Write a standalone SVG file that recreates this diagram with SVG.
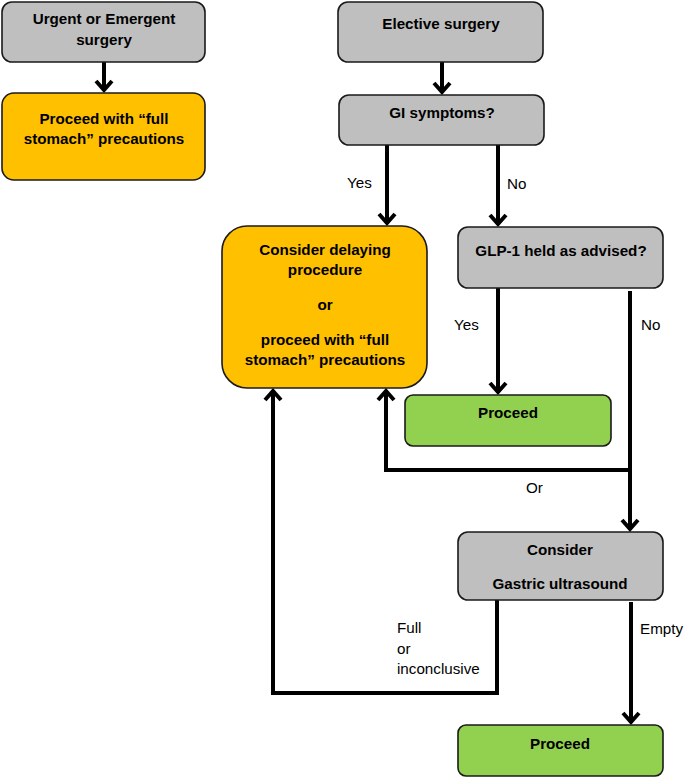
<svg xmlns="http://www.w3.org/2000/svg" width="685" height="777" viewBox="0 0 685 777">
<defs>
<style>
.box{stroke:#1a1a1a;stroke-width:1.6}
.gray{fill:#BFBFBF}
.orange{fill:#FFC000}
.green{fill:#92D050}
.t{font-family:"Liberation Sans",Arial,sans-serif;font-size:15.2px;font-weight:bold;fill:#000;text-anchor:middle}
.l{font-family:"Liberation Sans",Arial,sans-serif;font-size:15.2px;fill:#000}
.c{fill:none;stroke:#000;stroke-width:4;stroke-linejoin:miter}
.a{marker-end:url(#arr)}
</style>
<marker id="arr" markerUnits="userSpaceOnUse" markerWidth="24" markerHeight="24" refX="0" refY="0" orient="auto" viewBox="-14 -12 16 24" overflow="visible">
<path d="M-10,-8 L-1,0 L-10,8" fill="none" stroke="#000" stroke-width="4"/>
</marker>
</defs>
<g id="connectors">
<path class="c a" d="M104,62 V91"/>
<path class="c a" d="M442,62 V93"/>
<path class="c a" d="M387,145 V224"/>
<path class="c a" d="M498,145 V225"/>
<path class="c a" d="M498,288 V393"/>
<path class="c a" d="M630,291 V530"/>
<path class="c a" d="M630,470 H386 V390"/>
<path class="c a" d="M497,600 V693 H273 V390"/>
<path class="c a" d="M631,602 V723"/>
<text class="l" x="347" y="188">Yes</text>
<text class="l" x="507" y="189">No</text>
<text class="l" x="454" y="330">Yes</text>
<text class="l" x="641" y="330">No</text>
<text class="l" x="526" y="493">Or</text>
<text class="l" x="397" y="633">Full</text>
<text class="l" x="397" y="654">or</text>
<text class="l" x="397" y="674">inconclusive</text>
<text class="l" x="640" y="634">Empty</text>
</g>
<g id="urgent">
<rect class="box gray" x="2" y="2" width="203" height="60" rx="10"/>
<text class="t" x="104" y="24">Urgent or Emergent</text>
<text class="t" x="104" y="45">surgery</text>
</g>
<g id="full-stomach">
<rect class="box orange" x="2" y="93" width="203" height="87" rx="12"/>
<text class="t" x="104" y="124">Proceed with “full</text>
<text class="t" x="104" y="144">stomach” precautions</text>
</g>
<g id="elective">
<rect class="box gray" x="338" y="2" width="205" height="60" rx="10"/>
<text class="t" x="441" y="29">Elective surgery</text>
</g>
<g id="gi">
<rect class="box gray" x="339" y="95" width="205" height="50" rx="10"/>
<text class="t" x="442" y="118">GI symptoms?</text>
</g>
<g id="delay">
<rect class="box orange" x="222" y="226" width="205" height="162" rx="25"/>
<text class="t" x="325" y="255">Consider delaying</text>
<text class="t" x="325" y="275">procedure</text>
<text class="t" x="325" y="310">or</text>
<text class="t" x="325" y="345">proceed with “full</text>
<text class="t" x="325" y="365">stomach” precautions</text>
</g>
<g id="glp1">
<rect class="box gray" x="458" y="227" width="205" height="61" rx="10"/>
<text class="t" x="561" y="256">GLP-1 held as advised?</text>
</g>
<g id="proceed1">
<rect class="box green" x="405" y="395" width="206" height="51" rx="8"/>
<text class="t" x="508" y="418">Proceed</text>
</g>
<g id="ultrasound">
<rect class="box gray" x="458" y="532" width="205" height="68" rx="10"/>
<text class="t" x="560" y="555">Consider</text>
<text class="t" x="560" y="589">Gastric ultrasound</text>
</g>
<g id="proceed2">
<rect class="box green" x="458" y="725" width="205" height="51" rx="8"/>
<text class="t" x="560" y="749">Proceed</text>
</g>
</svg>
